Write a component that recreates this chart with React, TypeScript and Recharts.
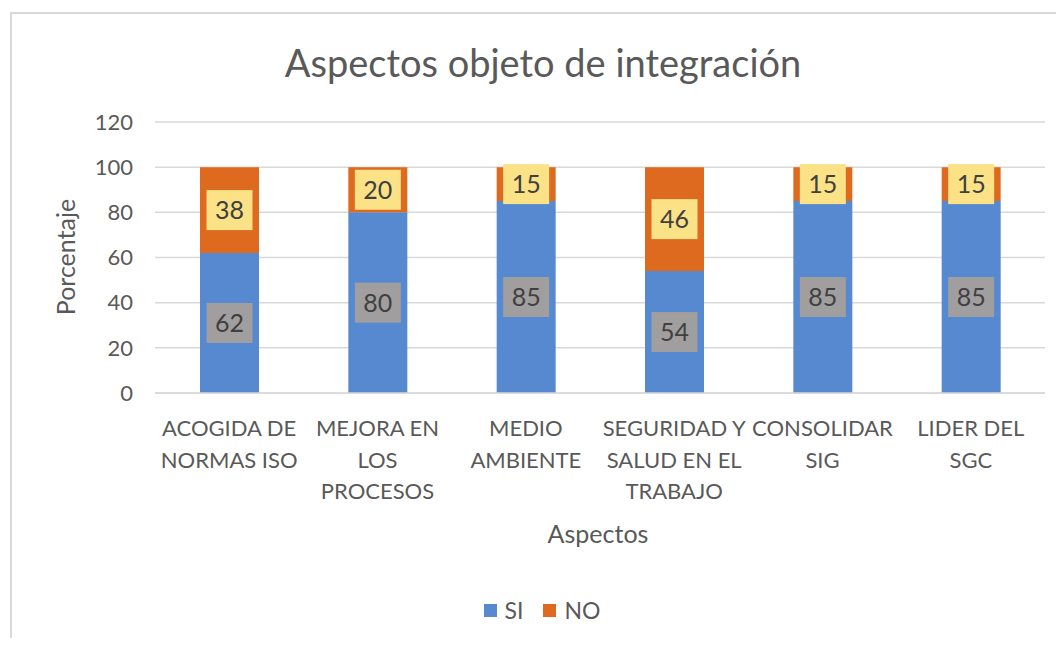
import { BarChart, Bar, XAxis, YAxis, CartesianGrid, LabelList, Legend } from "recharts";

// Datos del gráfico
const CATEGORIAS = [
  "ACOGIDA DE NORMAS ISO",
  "MEJORA EN LOS PROCESOS",
  "MEDIO AMBIENTE",
  "SEGURIDAD Y SALUD EN EL TRABAJO",
  "CONSOLIDAR SIG",
  "LIDER DEL SGC",
];
// Cortes de línea como los hace Excel
const LINEAS = [
  ["ACOGIDA DE", "NORMAS ISO"],
  ["MEJORA EN", "LOS", "PROCESOS"],
  ["MEDIO", "AMBIENTE"],
  ["SEGURIDAD Y", "SALUD EN EL", "TRABAJO"],
  ["CONSOLIDAR", "SIG"],
  ["LIDER DEL", "SGC"],
];
const SI = [62, 80, 85, 54, 85, 85];
const NO = [38, 20, 15, 46, 15, 15];
const TICKS_Y = [0, 20, 40, 60, 80, 100, 120];

const AZUL = "#5689cf";
const NARANJA = "#dd6a1f";
const FUENTE = "Lato, 'Open Sans', sans-serif";
const GRIS_TEXTO = "#595959";

const dados = CATEGORIAS.map((c, i) => ({ aspecto: c, lineas: LINEAS[i], SI: SI[i], NO: NO[i] }));

const etiquetaCaja = (fondo: string) => (props: any) => {
  const { x, y, width, height, value } = props;
  const cx = x + width / 2;
  const cy = y + height / 2;
  return (
    <g>
      <rect x={cx - 23} y={cy - 20} width={46} height={40} fill={fondo} />
      <text x={cx} y={cy + 9} textAnchor="middle" fontSize={25} fontFamily={FUENTE} fill="#404040">
        {value}
      </text>
    </g>
  );
};

const TickAspecto = ({ x, y, payload, index }: any) => {
  const lineas = LINEAS[index] ?? [payload.value];
  return (
    <text x={x} y={y} textAnchor="middle" fontSize={22} fontFamily={FUENTE} fill={GRIS_TEXTO}>
      {lineas.map((l: string, i: number) => (
        <tspan key={i} x={x} dy={i === 0 ? 35 : 31.5}>
          {l}
        </tspan>
      ))}
    </text>
  );
};

const Leyenda = () => (
  <div style={{ display: "flex", justifyContent: "center", alignItems: "center", gap: 8, fontFamily: FUENTE, fontSize: 23, color: GRIS_TEXTO }}>
    <span style={{ width: 13, height: 13, background: AZUL, display: "inline-block" }} />
    <span style={{ marginRight: 12 }}>SI</span>
    <span style={{ width: 13, height: 13, background: NARANJA, display: "inline-block" }} />
    <span>NO</span>
  </div>
);

export default function App() {
  return (
    <div style={{ width: 1048, height: 630 }}>
      <div
        style={{
          marginLeft: 2,
          marginTop: 4,
          width: 1046,
          height: 626,
          borderLeft: "2px solid #d9d9d9",
          borderTop: "2px solid #d9d9d9",
          boxSizing: "border-box",
          position: "relative",
          background: "#fff",
        }}
      >
        <div
          style={{
            position: "absolute",
            top: 26,
            left: 0,
            width: 1062,
            textAlign: "center",
            fontFamily: FUENTE,
            fontSize: 38,
            lineHeight: "44px",
            color: GRIS_TEXTO,
          }}
        >
          Aspectos objeto de integración
        </div>
        <div
          style={{
            position: "absolute",
            left: 53 - 80,
            top: 243 - 15,
            width: 160,
            textAlign: "center",
            transform: "rotate(-90deg)",
            fontFamily: FUENTE,
            fontSize: 25,
            lineHeight: "30px",
            color: GRIS_TEXTO,
          }}
        >
          Porcentaje
        </div>
        <div
          style={{
            position: "absolute",
            left: 586 - 80,
            top: 504,
            width: 160,
            textAlign: "center",
            fontFamily: FUENTE,
            fontSize: 25,
            lineHeight: "30px",
            color: GRIS_TEXTO,
          }}
        >
          Aspectos
        </div>
        <BarChart
          width={1044}
          height={624}
          data={dados}
          margin={{ top: 108, right: 11, bottom: 117, left: 83 }}
          barSize={59}
        >
          <CartesianGrid vertical={false} stroke="#d9d9d9" strokeWidth={1.5} />
          <XAxis
            dataKey="aspecto"
            height={100}
            interval={0}
            tickLine={false}
            axisLine={{ stroke: "#d9d9d9", strokeWidth: 1.5 }}
            tick={<TickAspecto />}
          />
          <YAxis
            width={60}
            domain={[0, 120]}
            ticks={TICKS_Y}
            tickLine={false}
            axisLine={false}
            tickMargin={16}
            tick={{ fontSize: 22, fontFamily: FUENTE, fill: GRIS_TEXTO }}
          />
          <Legend
            content={<Leyenda />}
            wrapperStyle={{ position: "absolute", top: 582, left: 0, width: 1060, bottom: "auto" }}
          />
          <Bar dataKey="SI" stackId="a" fill={AZUL} isAnimationActive={false}>
            <LabelList dataKey="SI" content={etiquetaCaja("#a09e9e")} />
          </Bar>
          <Bar dataKey="NO" stackId="a" fill={NARANJA} isAnimationActive={false}>
            <LabelList dataKey="NO" content={etiquetaCaja("#fbe286")} />
          </Bar>
        </BarChart>
      </div>
    </div>
  );
}
